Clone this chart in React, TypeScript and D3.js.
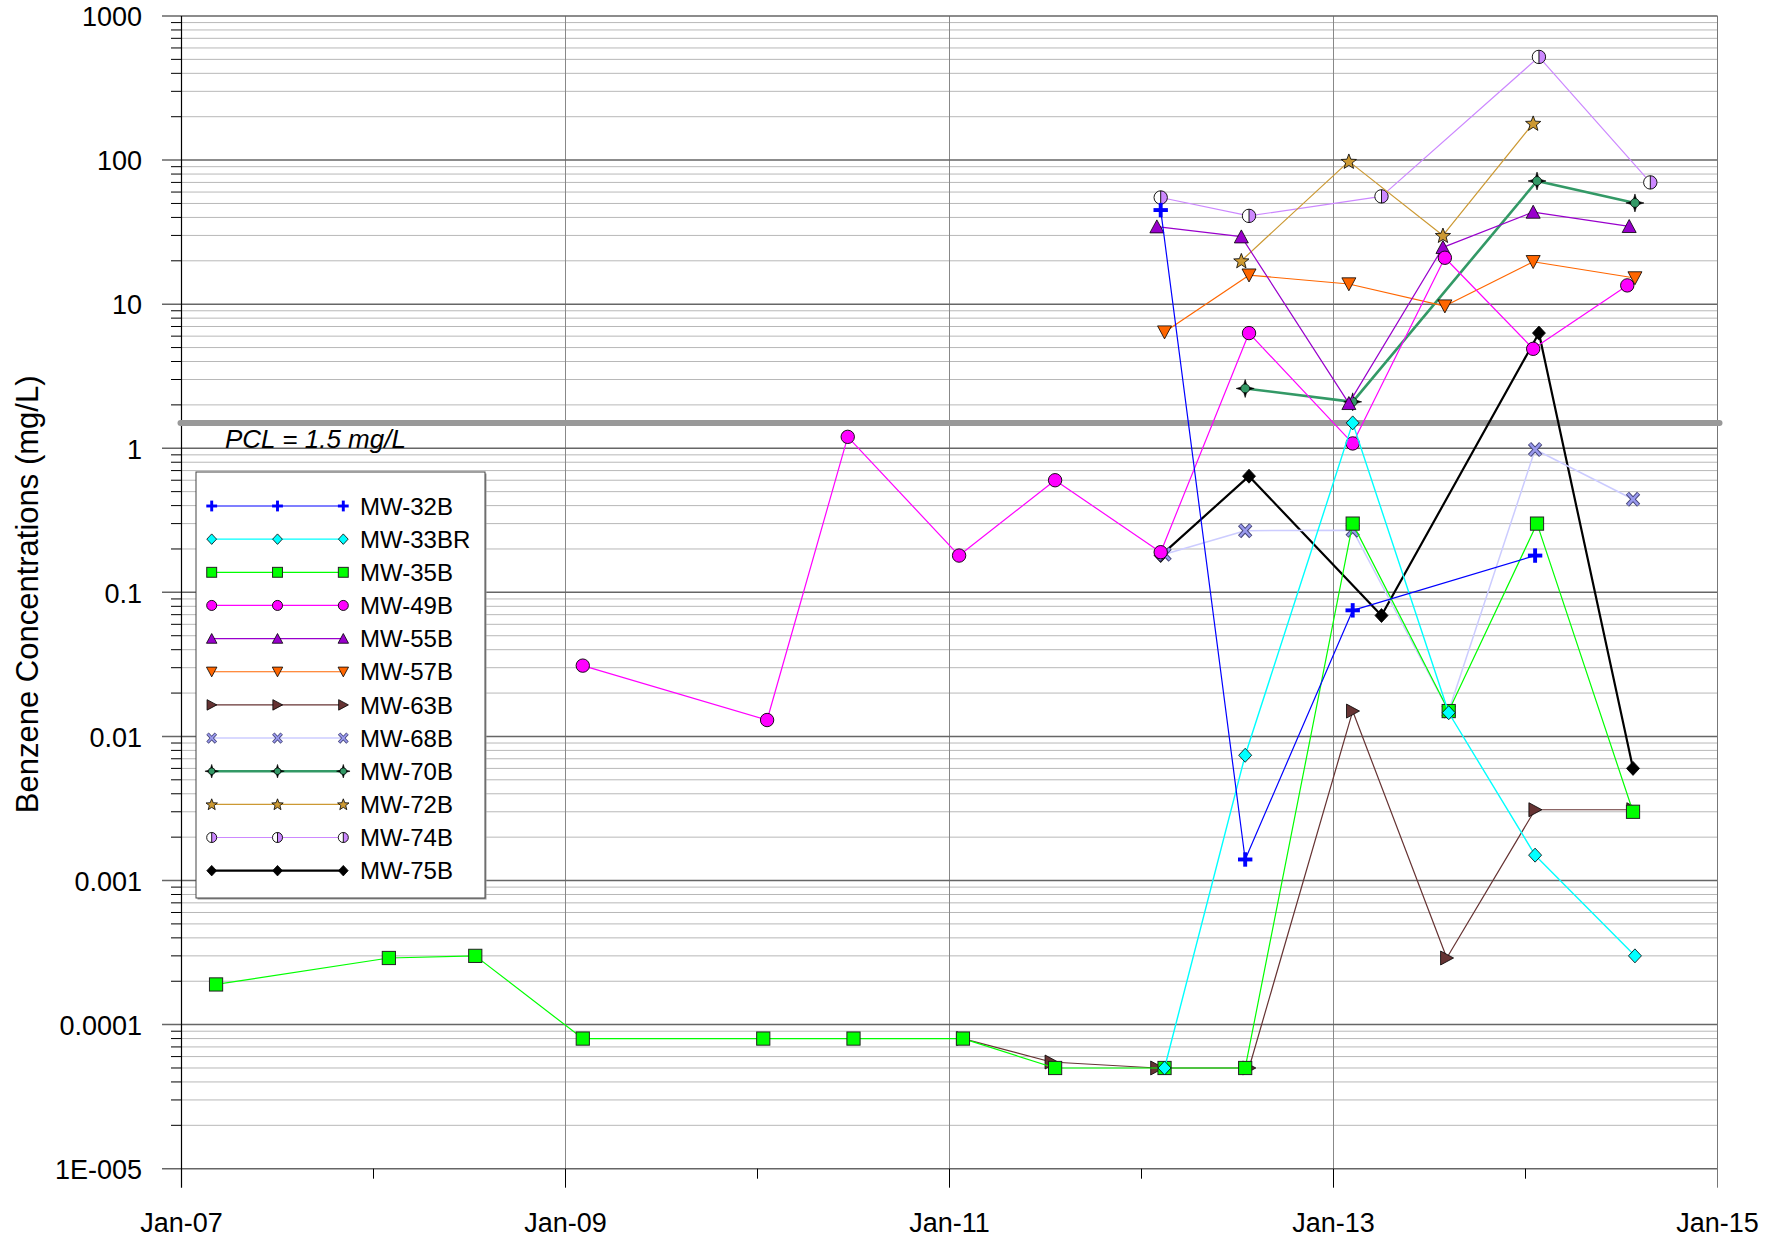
import React from 'react';
import * as d3 from 'd3';

const W = 1776;
const H = 1241;

// ---- data (decimal year, mg/L) ----
const MW32B: [number, number][] = [[2012.10, 45], [2012.54, 0.0014], [2013.10, 0.075], [2014.05, 0.18]];
const MW33BR: [number, number][] = [[2012.12, 0.00005], [2012.54, 0.0074], [2013.10, 1.5], [2013.60, 0.0146], [2014.05, 0.0015], [2014.57, 0.0003]];
const MW35B: [number, number][] = [[2007.18, 0.00019], [2008.08, 0.00029], [2008.53, 0.0003], [2009.09, 0.00008], [2010.03, 0.00008], [2010.50, 0.00008], [2011.07, 0.00008], [2011.55, 0.00005], [2012.12, 0.00005], [2012.54, 0.00005], [2013.10, 0.3], [2013.60, 0.015], [2014.06, 0.3], [2014.56, 0.003]];
const MW49B: [number, number][] = [[2009.09, 0.031], [2010.05, 0.013], [2010.47, 1.2], [2011.05, 0.18], [2011.55, 0.6], [2012.10, 0.19], [2012.56, 6.3], [2013.10, 1.08], [2013.58, 21], [2014.04, 4.9], [2014.53, 13.5]];
const MW55B: [number, number][] = [[2012.08, 34.5], [2012.52, 29.4], [2013.08, 2.05], [2013.57, 24.8], [2014.04, 43.6], [2014.54, 34.7]];
const MW57B: [number, number][] = [[2012.12, 6.4], [2012.56, 15.9], [2013.08, 13.8], [2013.58, 9.7], [2014.04, 19.7], [2014.57, 15.2]];
const MW63B: [number, number][] = [[2011.07, 0.00008], [2011.53, 0.000055], [2012.08, 0.00005], [2012.56, 0.00005], [2013.10, 0.015], [2013.59, 0.00029], [2014.05, 0.0031], [2014.56, 0.0031]];
const MW68B: [number, number][] = [[2012.12, 0.184], [2012.54, 0.268], [2013.10, 0.27], [2013.60, 0.015], [2014.05, 0.98], [2014.56, 0.443]];
const MW70B: [number, number][] = [[2012.54, 2.6], [2013.10, 2.1], [2014.06, 71.6], [2014.57, 50.4]];
const MW72B: [number, number][] = [[2012.52, 20], [2013.08, 98], [2013.57, 30], [2014.04, 180]];
const MW74B: [number, number][] = [[2012.10, 55], [2012.56, 41], [2013.25, 56], [2014.07, 520], [2014.65, 70]];
const MW75B: [number, number][] = [[2012.10, 0.18], [2012.56, 0.64], [2013.25, 0.069], [2014.07, 6.3], [2014.56, 0.006]];

const seriesNames = ['MW-32B', 'MW-33BR', 'MW-35B', 'MW-49B', 'MW-55B', 'MW-57B', 'MW-63B', 'MW-68B', 'MW-70B', 'MW-72B', 'MW-74B', 'MW-75B'];
const seriesData = [MW32B, MW33BR, MW35B, MW49B, MW55B, MW57B, MW63B, MW68B, MW70B, MW72B, MW74B, MW75B];
const seriesColors = ['#0000FF', '#00FFFF', '#00FF00', '#FF00FF', '#9900CC', '#FF6600', '#663333', '#CCCCFF', '#339966', '#CC9933', '#CC88FF', '#000000'];
const seriesWidths = [1.2, 1.4, 1.2, 1.2, 1.2, 1.2, 1.2, 1.5, 2.6, 1.2, 1.2, 2.2];
const seriesMarkers = ['plus', 'diamond', 'square', 'circle', 'triUp', 'triDown', 'triRight', 'x', 'star4', 'star5', 'half', 'diamondBlack'];
const markerFills = ['#0000FF', '#00FFFF', '#00FF00', '#FF00FF', '#9900CC', '#FF6600', '#663333', '#9999EE', '#339966', '#CC9933', '#CC88FF', '#000000'];

const yTickValues = [1e-5, 1e-4, 1e-3, 1e-2, 0.1, 1, 10, 100, 1000];
const yTickLabels = ['1E-005', '0.0001', '0.001', '0.01', '0.1', '1', '10', '100', '1000'];
const xTickYears = [2007, 2009, 2011, 2013, 2015];
const xTickLabels = ['Jan-07', 'Jan-09', 'Jan-11', 'Jan-13', 'Jan-15'];
const xMinorYears = [2008, 2010, 2012, 2014];
const PCL = 1.5;
const PCL_LABEL = 'PCL = 1.5 mg/L';
const Y_TITLE = 'Benzene Concentrations (mg/L)';

const FONT = "'Liberation Sans', Arial, sans-serif";

const left = 181.5, right = 1717.5, top = 16, bottom = 1168.7;
const x = d3.scaleLinear().domain([2007, 2015]).range([left, right]);
const y = d3.scaleLog().domain([1e-5, 1000]).range([bottom, top]);

function Marker({ type, cx, cy, s, fill }: { type: string; cx: number; cy: number; s: number; fill: string }) {
  switch (type) {
    case 'plus':
      return (
        <g stroke={fill} strokeWidth={3.9 * s} strokeLinecap="butt">
          <line x1={cx - 7.2 * s} x2={cx + 7.2 * s} y1={cy} y2={cy} />
          <line x1={cx} x2={cx} y1={cy - 7.2 * s} y2={cy + 7.2 * s} />
        </g>
      );
    case 'diamond':
    case 'diamondBlack':
      return (
        <path d={`M${cx},${cy - 7 * s}L${cx + 6.5 * s},${cy}L${cx},${cy + 7 * s}L${cx - 6.5 * s},${cy}Z`} fill={fill} stroke="#000" strokeWidth={0.8} />
      );
    case 'square':
      return <rect x={cx - 6.6 * s} y={cy - 6.6 * s} width={13.2 * s} height={13.2 * s} fill={fill} stroke="#222" strokeWidth={1} />;
    case 'circle':
      return <circle cx={cx} cy={cy} r={6.7 * s} fill={fill} stroke="#000" strokeWidth={0.9} />;
    case 'triUp':
      return <path d={`M${cx},${cy - 6.8 * s}L${cx + 7 * s},${cy + 6.2 * s}L${cx - 7 * s},${cy + 6.2 * s}Z`} fill={fill} stroke="#000" strokeWidth={0.8} />;
    case 'triDown':
      return <path d={`M${cx},${cy + 6.8 * s}L${cx + 7 * s},${cy - 6.2 * s}L${cx - 7 * s},${cy - 6.2 * s}Z`} fill={fill} stroke="#000" strokeWidth={0.8} />;
    case 'triRight':
      return <path d={`M${cx + 6.8 * s},${cy}L${cx - 6.2 * s},${cy - 7 * s}L${cx - 6.2 * s},${cy + 7 * s}Z`} fill={fill} stroke="#000" strokeWidth={0.8} />;
    case 'x':
      return (
        <g strokeLinecap="butt">
          <g stroke="#444477" strokeWidth={4.4 * s}>
            <line x1={cx - 5.6 * s} y1={cy - 6 * s} x2={cx + 5.6 * s} y2={cy + 6 * s} />
            <line x1={cx - 5.6 * s} y1={cy + 6 * s} x2={cx + 5.6 * s} y2={cy - 6 * s} />
          </g>
          <g stroke={fill} strokeWidth={2.4 * s}>
            <line x1={cx - 5.2 * s} y1={cy - 5.6 * s} x2={cx + 5.2 * s} y2={cy + 5.6 * s} />
            <line x1={cx - 5.2 * s} y1={cy + 5.6 * s} x2={cx + 5.2 * s} y2={cy - 5.6 * s} />
          </g>
        </g>
      );
    case 'star4': {
      const a = 9 * s, b = 2 * s;
      const d = `M${cx},${cy - a}L${cx + b},${cy - b}L${cx + a},${cy}L${cx + b},${cy + b}L${cx},${cy + a}L${cx - b},${cy + b}L${cx - a},${cy}L${cx - b},${cy - b}Z`;
      return (
        <g>
          <path d={d} fill="#000" stroke="#000" strokeWidth={0.6} />
          <circle cx={cx} cy={cy} r={4.4 * s} fill={fill} stroke="#000" strokeWidth={0.7} />
        </g>
      );
    }
    case 'star5': {
      const pts: string[] = [];
      for (let i = 0; i < 10; i++) {
        const r = (i % 2 === 0 ? 8 : 3.4) * s;
        const ang = -Math.PI / 2 + (i * Math.PI) / 5;
        pts.push(`${cx + r * Math.cos(ang)},${cy + 0.6 * s + r * Math.sin(ang)}`);
      }
      return <polygon points={pts.join(' ')} fill={fill} stroke="#000" strokeWidth={0.8} />;
    }
    case 'half': {
      const r = 6.7 * s;
      return (
        <g>
          <circle cx={cx} cy={cy} r={r} fill="#fff" />
          <path d={`M${cx},${cy - r}A${r},${r} 0 0 1 ${cx},${cy + r}Z`} fill={fill} />
          <circle cx={cx} cy={cy} r={r} fill="none" stroke="#000" strokeWidth={0.9} />
          <line x1={cx} x2={cx} y1={cy - r} y2={cy + r} stroke="#000" strokeWidth={0.9} />
        </g>
      );
    }
    default:
      return null;
  }
}

export default function App() {
  const line = d3
    .line<[number, number]>()
    .x((d) => x(d[0]))
    .y((d) => y(d[1]));

  const minorVals: number[] = [];
  for (let e = -5; e < 3; e++) {
    for (let m = 2; m <= 9; m++) minorVals.push(m * Math.pow(10, e));
  }

  const legendX0 = 196, legendY0 = 472, legendW = 289, legendH = 426;
  const rowY0 = 506, rowStep = 33.15;
  const lx1 = 211.7, lx2 = 343.3, lxm = (lx1 + lx2) / 2;

  const order = seriesNames.map((_, i) => i).reverse();

  return (
    <svg width={W} height={H} style={{ position: 'absolute', left: 0, top: 0, background: '#fff' }} fontFamily={FONT}>
      <rect x={0} y={0} width={W} height={H} fill="#fff" />
      {/* minor horizontal grid */}
      {minorVals.map((v, i) => (
        <g key={'mg' + i}>
          <line x1={left} x2={right} y1={y(v)} y2={y(v)} stroke="#b8b8b8" strokeWidth={1} />
          <line x1={171} x2={left} y1={y(v)} y2={y(v)} stroke="#000" strokeWidth={1} />
        </g>
      ))}
      {/* vertical grid */}
      {xTickYears.slice(1, -1).map((yr) => (
        <line key={'vg' + yr} x1={x(yr)} x2={x(yr)} y1={top} y2={bottom} stroke="#888" strokeWidth={1} />
      ))}
      {/* major horizontal grid */}
      {yTickValues.map((v) => (
        <line key={'Mg' + v} x1={162} x2={right} y1={y(v)} y2={y(v)} stroke="#666" strokeWidth={1.5} />
      ))}
      {/* right border */}
      <line x1={right} x2={right} y1={top} y2={bottom + 19} stroke="#777" strokeWidth={1} />
      {/* left axis */}
      <line x1={left} x2={left} y1={top} y2={bottom + 19} stroke="#000" strokeWidth={1.2} />
      {/* x ticks */}
      {xTickYears.slice(1, -1).map((yr) => (
        <line key={'xt' + yr} x1={x(yr)} x2={x(yr)} y1={bottom} y2={bottom + 19} stroke="#000" strokeWidth={1} />
      ))}
      {xMinorYears.map((yr) => (
        <line key={'xm' + yr} x1={x(yr)} x2={x(yr)} y1={bottom} y2={bottom + 10} stroke="#000" strokeWidth={1} />
      ))}
      {/* y tick labels */}
      {yTickValues.map((v, i) => (
        <text key={'yl' + v} x={142} y={y(v) + 10.3} textAnchor="end" fontSize={27} fill="#000">
          {yTickLabels[i]}
        </text>
      ))}
      {/* x tick labels */}
      {xTickYears.map((yr, i) => (
        <text key={'xl' + yr} x={x(yr)} y={1231.5} textAnchor="middle" fontSize={27} fill="#000">
          {xTickLabels[i]}
        </text>
      ))}
      {/* y title */}
      <text transform={`translate(38,${(top + bottom) / 2 + 2}) rotate(-90)`} textAnchor="middle" fontSize={31} fill="#000">
        {Y_TITLE}
      </text>
      {/* PCL line */}
      <line x1={left - 1} x2={right + 2} y1={y(PCL)} y2={y(PCL)} stroke="#999" strokeWidth={6} strokeLinecap="round" />
      <text x={225} y={448} fontSize={26} fontStyle="italic" fill="#000">
        {PCL_LABEL}
      </text>
      {/* series */}
      {order.map((i) => (
        <g key={'s' + i}>
          <path d={line(seriesData[i]) || ''} fill="none" stroke={seriesColors[i]} strokeWidth={seriesWidths[i]} strokeLinejoin="round" />
          {seriesData[i].map((d, j) => (
            <Marker key={j} type={seriesMarkers[i]} cx={x(d[0])} cy={y(d[1])} s={1} fill={markerFills[i]} />
          ))}
        </g>
      ))}
      {/* legend */}
      <rect x={legendX0 + 1.5} y={legendY0 + 1.5} width={legendW} height={legendH} fill="#999" />
      <rect x={legendX0} y={legendY0} width={legendW} height={legendH} fill="#fff" stroke="#444" strokeWidth={1} />
      {seriesNames.map((name, i) => {
        const ry = rowY0 + i * rowStep;
        return (
          <g key={'lg' + i}>
            <line x1={lx1} x2={lx2} y1={ry} y2={ry} stroke={seriesColors[i]} strokeWidth={seriesWidths[i]} />
            {[lx1, lxm, lx2].map((mx, j) => (
              <Marker key={j} type={seriesMarkers[i]} cx={mx} cy={ry} s={0.75} fill={markerFills[i]} />
            ))}
            <text x={360} y={ry + 8.6} fontSize={24} fill="#000">
              {name}
            </text>
          </g>
        );
      })}
    </svg>
  );
}
